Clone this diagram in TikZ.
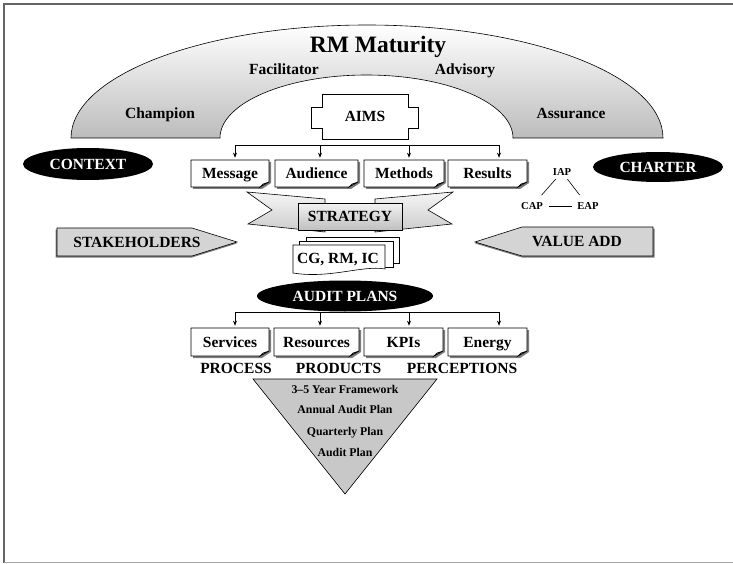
\documentclass[tikz,border=0pt]{standalone}
\usepackage{fontspec}
\setmainfont{Liberation Serif}
\usetikzlibrary{shapes.geometric,arrows.meta,calc}
\definecolor{archgray}{RGB}{188,188,188}
\definecolor{trigray}{RGB}{200,200,200}
\definecolor{arrgray}{RGB}{212,212,212}
\definecolor{shadowgray}{RGB}{125,125,125}
\definecolor{framegray}{RGB}{100,100,100}
\tikzset{
  lbl/.style={font=\fontsize{15.5}{18}\selectfont\bfseries, inner sep=0pt, align=center, text height=10.3pt, text depth=0pt},
  biglbl/.style={font=\fontsize{23.5}{26}\selectfont\bfseries, inner sep=0pt, text height=15.6pt, text depth=0pt},
  trilbl/.style={font=\fontsize{11.8}{14}\selectfont\bfseries, inner sep=0pt, text height=7.8pt, text depth=0pt},
  smalllbl/.style={font=\fontsize{10.6}{12}\selectfont\bfseries, inner sep=2.5pt, text height=7pt, text depth=0pt},
  blackoval/.style={ellipse, fill=black, text=white, inner sep=0pt},
  arr/.style={-{Stealth[length=5pt,width=4pt]}, shorten >=2pt},
  docshadow/.style={fill=shadowgray},
}
\newcommand\docbox[6]{%
  \fill[docshadow] (#2+2,#3+2) -- (#4+2,#3+2) -- (#4+2,#5-4) -- (#4-7,#5+2) -- (#2+2,#5+2) -- cycle;
  \draw[fill=white] (#2,#3) -- (#4,#3) -- (#4,#5-5) -- (#4-9,#5) -- (#2,#5) -- cycle;
  \draw[fill=gray!25] (#4,#5-5) -- (#4-6,#5-3) -- (#4-9,#5) -- cycle;
  \node[lbl, minimum width=#4-#2, minimum height=#5-#3] (#1) at ({(#2+#4)/2},{(#3+#5)/2}) {#6};}
\begin{document}
\begin{tikzpicture}[x=1pt,y=-1pt, line width=0.6pt]
\useasboundingbox (0,0) rectangle (733,564);
% frame
\draw[framegray, line width=1.5pt] (733,4) -- (4,4) -- (4,563);
\draw[gray!70, line width=1.5pt] (4,562.5) -- (733,562.5);

% arch
\draw[top color=white, bottom color=archgray]
  (71,138) arc[start angle=180, end angle=360, x radius=296, y radius=113]
  -- (513,138) arc[start angle=0, end angle=-180, x radius=146.5, y radius=63] -- cycle;
\node[biglbl] (rm) at (378,45) {RM Maturity};
\node[lbl] (facil) at (284,69) {Facilitator};
\node[lbl] (advis) at (465,69) {Advisory};
\node[lbl] (champ) at (160,113) {Champion};
\node[lbl] (assur) at (571,113) {Assurance};

% AIMS
\draw[fill=white] (322,94) -- (408,94) -- (408,107) -- (418,107) -- (418,128) -- (408,128)
  -- (408,139) -- (322,139) -- (322,128) -- (311,128) -- (311,107) -- (322,107) -- cycle;
\node[lbl] (aims) at (365,116.5) {AIMS};

% side ovals
\node[lbl, blackoval, minimum width=130pt, minimum height=32pt] (context) at (88,164) {CONTEXT};
\node[lbl, blackoval, minimum width=130pt, minimum height=30pt] (charter) at (658,167) {CHARTER};

% first row of documents
\docbox{msg}{191}{160}{269}{187}{Message}
\docbox{aud}{275}{160}{358}{187}{Audience}
\docbox{meth}{364}{160}{444}{187}{Methods}
\docbox{res}{448}{160}{527}{187}{Results}

\coordinate (a1) at (235,145);
\coordinate (a2) at (320,145);
\coordinate (a3) at (409,145);
\coordinate (a4) at (499,145);
\draw (a1) -- (a4);
\draw[arr] (a1) -- (a1 |- msg.north);
\draw[arr] (a2) -- (a2 |- aud.north);
\draw[arr] (a3) -- (a3 |- meth.north);
\draw[arr] (a4) -- (a4 |- res.north);

% IAP triangle
\node[smalllbl] (iap) at (562,172) {IAP};
\node[smalllbl] (cap) at (532,206) {CAP};
\node[smalllbl] (eap) at (588,206) {EAP};
\draw[shorten >=6pt, shorten <=1pt] (iap) -- (cap);
\draw[shorten >=6pt, shorten <=1pt] (iap) -- (eap);
\draw[shorten >=3pt, shorten <=3pt] (cap) -- (eap);

% STRATEGY banner
\draw[top color=gray!8, bottom color=gray!40] (247,192) -- (325,199) -- (325,232) -- (248,224) -- (272,210) -- cycle;
\draw[top color=gray!8, bottom color=gray!40] (453,192) -- (375,199) -- (375,232) -- (452,224) -- (428,210) -- cycle;
\draw[top color=gray!10, bottom color=gray!50] (298,203) rectangle (402,230);
\node[lbl] (strat) at (350,216.5) {STRATEGY};

% side arrows
\fill[shadowgray] (55.5,229.5) -- (192,229.5) -- (237,243.5) -- (192,257.5) -- (55.5,257.5) -- cycle;
\draw[fill=arrgray] (57,228) -- (192,228) -- (237,242) -- (192,256) -- (57,256) -- cycle;
\node[lbl] (stake) at (137,242.5) {STAKEHOLDERS};
\fill[shadowgray] (654.5,228.5) -- (522,228.5) -- (475,243.5) -- (522,257.5) -- (654.5,257.5) -- cycle;
\draw[fill=arrgray] (653,227) -- (522,227) -- (475,242) -- (522,256) -- (653,256) -- cycle;
\node[lbl] (value) at (577,241.5) {VALUE ADD};

% CG, RM, IC document stack
\draw[fill=white] (306,237) rectangle (399,263);
\draw[fill=white] (299,241.5) rectangle (393,267);
\draw[fill=white] (293,245) -- (385,245) -- (385,269) .. controls (362,265) and (330,279) .. (293,273) -- cycle;
\node[lbl] (cg) at (338,258) {CG, RM, IC};

% AUDIT PLANS
\node[lbl, blackoval, minimum width=176pt, minimum height=31pt] (plans) at (345,296) {AUDIT PLANS};

% second row of documents
\docbox{serv}{191}{328}{269}{356}{Services}
\docbox{reso}{274}{328}{359}{356}{Resources}
\docbox{kpi}{364}{328}{443}{356}{KPIs}
\docbox{ener}{448}{328}{527}{356}{Energy}

\coordinate (c1) at (235,312);
\coordinate (c2) at (320,312);
\coordinate (c3) at (409,312);
\coordinate (c4) at (499,312);
\draw (c1) -- (c4);
\draw[arr] (c1) -- (c1 |- serv.north);
\draw[arr] (c2) -- (c2 |- reso.north);
\draw[arr] (c3) -- (c3 |- kpi.north);
\draw[arr] (c4) -- (c4 |- ener.north);

\node[lbl] (proc) at (236,368.3) {PROCESS};
\node[lbl] (prod) at (338.5,368.3) {PRODUCTS};
\node[lbl] (perc) at (462,368.3) {PERCEPTIONS};

% planning triangle
\draw[fill=trigray] (253,379) -- (437,379) -- (345,494) -- cycle;
\node[trilbl] (fw) at (345,389.5) {3–5 Year Framework};
\node[trilbl] (annual) at (345,409.5) {Annual Audit Plan};
\node[trilbl] (quart) at (345,431.5) {Quarterly Plan};
\node[trilbl] (audit) at (345,452.5) {Audit Plan};
\end{tikzpicture}
\end{document}
